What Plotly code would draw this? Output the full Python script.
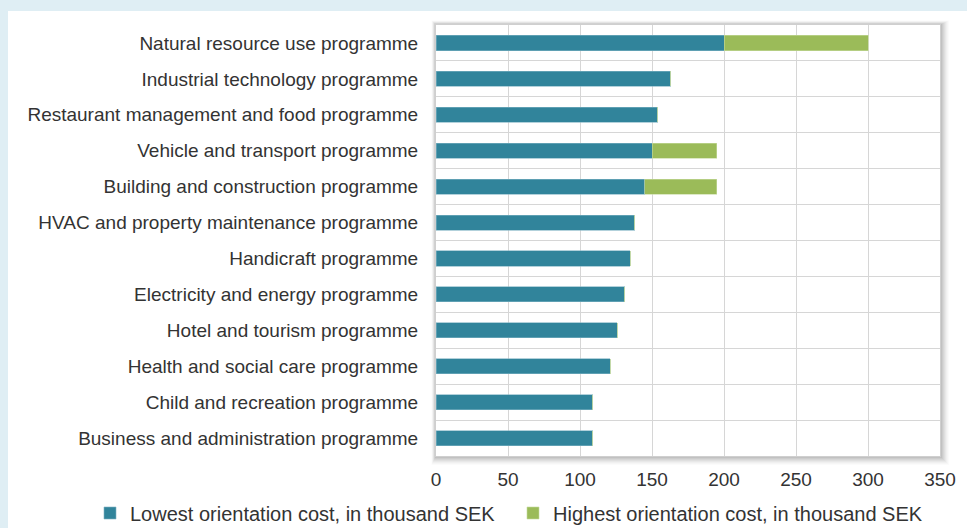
import plotly.graph_objects as go

categories = [
    "Natural resource use programme",
    "Industrial technology programme",
    "Restaurant management and food programme",
    "Vehicle and transport programme",
    "Building and construction programme",
    "HVAC and property maintenance programme",
    "Handicraft programme",
    "Electricity and energy programme",
    "Hotel and tourism programme",
    "Health and social care programme",
    "Child and recreation programme",
    "Business and administration programme",
]
lowest = [200, 163, 154, 150, 145, 138, 135, 131, 126, 121, 109, 109]
# extra on top of lowest, so that lowest + extra = highest
extra = [100, 0, 0, 45, 50, 0, 0, 0, 0, 0, 0, 0]
x_ticks = [0, 50, 100, 150, 200, 250, 300, 350]

BLUE = "#31849b"
GREEN = "#9bbb59"
FONT = "Liberation Sans, Arial, sans-serif"
TXT = "#333333"

fig = go.Figure()
fig.add_trace(go.Bar(
    y=categories, x=lowest, orientation="h",
    name="Lowest orientation cost, in thousand SEK",
    marker=dict(color=BLUE, line=dict(color="#7fb3c3", width=0.6)),
))
fig.add_trace(go.Bar(
    y=categories, x=extra, orientation="h",
    name="Highest orientation cost, in thousand SEK",
    marker=dict(color=GREEN, line=dict(color="#c6dba0", width=0.6)),
))

W, H = 967, 528
L, R, T, B = 436, 27, 25, 72
pw, ph = W - L - R, H - T - B

def px_x(p):
    return (p - L) / pw

def px_y(p):
    return (H - B - p) / ph

shapes = [
    # white panel
    dict(type="rect", xref="paper", yref="paper", layer="below",
         x0=px_x(8), x1=px_x(970), y0=px_y(530), y1=px_y(11),
         fillcolor="white", line=dict(width=0)),
]
# soft drop shadow around plot area (mostly right/bottom)
for d, op in [(9, 0.015), (8, 0.02), (7, 0.025), (6, 0.03), (5, 0.035), (4, 0.04), (3, 0.045), (2, 0.05), (1, 0.06)]:
    shapes.append(dict(type="rect", xref="paper", yref="paper", layer="below",
                       x0=px_x(L - d / 2), x1=px_x(L + pw + d),
                       y0=px_y(H - B + d), y1=px_y(T - d / 2),
                       fillcolor="rgba(0,0,0,%.3f)" % op, line=dict(width=0)))
# white plot area on top of the shadow
shapes.append(dict(type="rect", xref="paper", yref="paper", layer="below",
                   x0=0, x1=1, y0=0, y1=1, fillcolor="white", line=dict(width=0)))

fig.update_layout(
    width=W, height=H,
    margin=dict(l=L, r=R, t=T, b=B, pad=0, autoexpand=False),
    paper_bgcolor="#dfeef4",
    plot_bgcolor="rgba(0,0,0,0)",
    barmode="stack",
    bargap=0.58,
    font=dict(family=FONT, size=19, color=TXT),
    shapes=shapes,
    showlegend=True,
    legend=dict(orientation="h", x=px_x(90), xanchor="left",
                y=px_y(513), yanchor="middle",
                font=dict(family=FONT, size=20, color=TXT),
                bgcolor="rgba(0,0,0,0)", itemwidth=30, traceorder="normal",
                entrywidth=378),
    xaxis=dict(range=[0, 350], tickvals=x_ticks, showgrid=True,
               gridcolor="#d6d6d6", gridwidth=1, zeroline=False,
               showline=True, linecolor="#cfcfcf", mirror=True,
               ticks="outside", ticklen=6, tickcolor="rgba(0,0,0,0)",
               tickfont=dict(size=19, color=TXT), fixedrange=True),
    yaxis=dict(type="category", autorange="reversed", tickson="boundaries",
               showgrid=True, gridcolor="#d6d6d6", gridwidth=1,
               showline=True, linecolor="#cfcfcf", mirror=True,
               ticks="", ticklabelstandoff=13,
               tickfont=dict(size=19, color=TXT), fixedrange=True),
)

fig.write_html("out.html", config={"displayModeBar": False},
               post_script="document.body.style.margin='0';")
